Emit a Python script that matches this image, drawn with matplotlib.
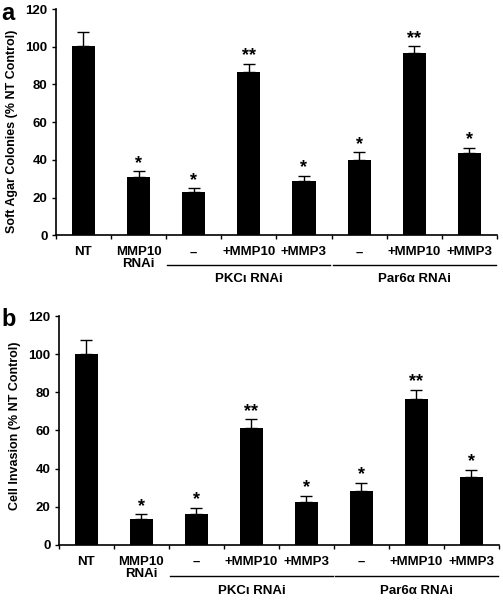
import matplotlib
matplotlib.use('Agg')
import matplotlib.pyplot as plt
import matplotlib.transforms as mtransforms
import numpy as np

plt.rcParams['font.family'] = ['Liberation Sans', 'DejaVu Sans']
plt.rcParams['font.weight'] = 'bold'

# ---- data ----
categories = ['NT', 'MMP10\nRNAi', '\u2013', '+MMP10', '+MMP3', '\u2013', '+MMP10', '+MMP3']
soft_agar = [100.5, 30.8, 22.8, 86.5, 28.7, 40.0, 96.8, 43.4]
soft_agar_err = [7.3, 3.0, 2.0, 4.5, 2.8, 3.9, 3.4, 3.0]
soft_agar_sig = ['', '*', '*', '**', '*', '*', '**', '*']
invasion = [100.4, 13.3, 16.4, 61.5, 22.5, 28.3, 76.5, 35.6]
invasion_err = [7.0, 2.8, 3.0, 4.4, 3.2, 4.2, 4.9, 3.7]
invasion_sig = ['', '*', '*', '**', '*', '*', '**', '*']
groups = [('PKC\u03b9 RNAi', 2, 4), ('Par6\u03b1 RNAi', 5, 7)]

fig = plt.figure(figsize=(5.03, 6.0), dpi=100)
ax_a = fig.add_axes([0.111, 0.608, 0.877, 0.377])
ax_b = fig.add_axes([0.117, 0.092, 0.875, 0.381])


def draw_panel(ax, vals, errs, sigs, ylabel, line_y, group_y, label_y):
    x = np.arange(len(vals))
    ax.bar(x, vals, width=0.42, color='black', zorder=2)
    ax.errorbar(x, vals, yerr=[np.zeros(len(errs)), errs], fmt='none',
                ecolor='black', elinewidth=1.0, capsize=4, capthick=1.0, zorder=1)
    for xi, v, e, s in zip(x, vals, errs, sigs):
        if s:
            ax.text(xi, v + e - 0.3, s, ha='center', va='bottom',
                    fontsize=13, fontweight='bold')
    ax.set_xlim(-0.5, len(vals) - 0.5)
    ax.set_ylim(0, 120)
    ax.set_yticks(range(0, 121, 20))
    ax.set_xticks(x)
    ax.set_xticklabels(categories, fontsize=9.5, fontweight='bold', linespacing=1.0)
    ax.set_xticks(np.arange(-0.5, len(vals)), minor=True)
    ax.tick_params(axis='x', which='major', length=0, pad=8)
    ax.tick_params(axis='x', which='minor', length=3, width=1, direction='out')
    ax.tick_params(axis='y', length=3, width=1, labelsize=9.5, pad=3)
    for lab in ax.get_yticklabels():
        lab.set_fontweight('bold')
    ax.spines['top'].set_visible(False)
    ax.spines['right'].set_visible(False)
    ax.spines['left'].set_linewidth(1.2)
    ax.spines['bottom'].set_linewidth(1.2)
    ax.set_ylabel(ylabel, fontsize=9, fontweight='bold')
    ax.yaxis.set_label_coords(-0.085, label_y)
    trans = mtransforms.blended_transform_factory(ax.transData, ax.transAxes)
    for name, i0, i1 in groups:
        ax.plot([i0 - 0.48, i1 + 0.48], [line_y, line_y], color='black', lw=1.0,
                transform=trans, clip_on=False)
        ax.text((i0 + i1) / 2, group_y, name, transform=trans, ha='center',
                va='center', fontsize=9.5, fontweight='bold')


draw_panel(ax_a, soft_agar, soft_agar_err, soft_agar_sig,
           'Soft Agar Colonies (% NT Control)', -0.133, -0.195, 0.46)
draw_panel(ax_b, invasion, invasion_err, invasion_sig,
           'Cell Invasion (% NT Control)', -0.135, -0.20, 0.52)

fig.text(0.002, 0.997, 'a', fontsize=17, fontweight='bold', ha='left', va='top')
fig.text(0.002, 0.487, 'b', fontsize=17, fontweight='bold', ha='left', va='top')

fig.savefig('out.png', dpi=100)
